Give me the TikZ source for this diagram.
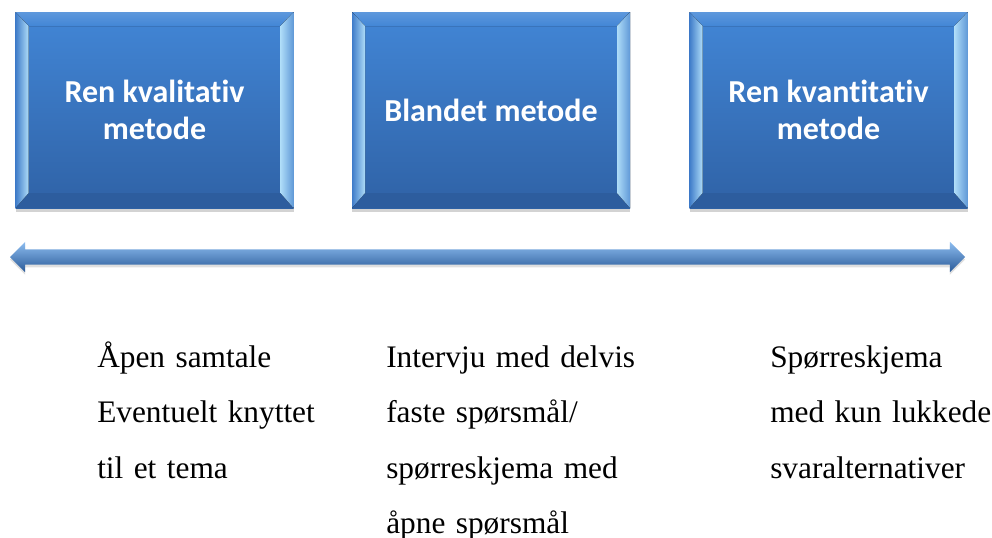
\documentclass[tikz,border=0pt]{standalone}
\usepackage{fontspec}
\setmainfont{Liberation Serif}
\newfontfamily\boksfont[Ligatures=NoCommon]{Carlito}
\usetikzlibrary{shapes.arrows, shadows, calc, chains}

\definecolor{bokstopp}{HTML}{4286D6}
\definecolor{boksbunn}{HTML}{2F62A6}
\definecolor{kantlys}{HTML}{AEDCF8}
\definecolor{kantmork}{HTML}{3F7CC9}
\definecolor{bunnkant}{HTML}{2D5D9E}
\definecolor{akselys}{HTML}{8DBDF0}
\definecolor{akseblaa}{HTML}{4A86CF}
\definecolor{aksemork}{HTML}{2A5A98}

\tikzset{
  metodeboks/.style={minimum width=208.5pt, minimum height=147pt, inner sep=0pt,
    top color=bokstopp, bottom color=boksbunn, text=white, align=center,
    font=\boksfont\bfseries\fontsize{24}{28}\selectfont,
    drop shadow={shadow xshift=0pt, shadow yshift=-3pt, opacity=0.35},
    path picture={
      \coordinate (nw) at (path picture bounding box.north west);
      \coordinate (ne) at (path picture bounding box.north east);
      \coordinate (sw) at (path picture bounding box.south west);
      \coordinate (se) at (path picture bounding box.south east);
      % skrå kanter
      \fill[top color=bokstopp!85!white, bottom color=bokstopp]
        (nw) -- (ne) -- ($(ne)+(-13,14)$) -- ($(nw)+(13,14)$) -- cycle;
      \fill[bunnkant]
        (sw) -- (se) -- ($(se)+(-13,-15)$) -- ($(sw)+(13,-15)$) -- cycle;
      \fill[left color=kantmork, right color=kantlys]
        (nw) -- ($(nw)+(13,14)$) -- ($(sw)+(13,-15)$) -- (sw) -- cycle;
      \fill[left color=kantlys, right color=kantmork!70!kantlys]
        (ne) -- ($(ne)+(-13,14)$) -- ($(se)+(-13,-15)$) -- (se) -- cycle;
    }},
  linje/.style={on chain, text width=210pt, align=left, inner sep=0pt,
    text height=30pt, text depth=11.25pt, font=\fontsize{23.5}{29}\selectfont}
}

\begin{document}
\begin{tikzpicture}[x=0.75pt, y=-0.75pt, node distance=0pt]
    \useasboundingbox (0,0) rectangle (992,537);

    \node[metodeboks] (kval) at (154.5,110) {Ren kvalitativ\\metode};
    \node[metodeboks] (bland) at (491,110) {Blandet metode};
    \node[metodeboks] (kvant) at (828.5,110) {Ren kvantitativ\\metode};

    % aksen mellom ytterpunktene
    \node[double arrow, minimum height=716.25pt, inner xsep=0pt, inner ysep=5.6pt,
      double arrow head extend=5.6pt,
      top color=akselys, middle color=akseblaa, bottom color=aksemork,
      drop shadow={shadow xshift=0pt, shadow yshift=-2pt, opacity=0.25}]
      (akse) at (487.5,257) {};

    \begin{scope}[start chain=venstre going below]
      \node[linje, anchor=base west] (v1) at (97,367) {Åpen samtale};
      \node[linje] (v2) {Eventuelt knyttet};
      \node[linje] (v3) {til et tema};
    \end{scope}

    \begin{scope}[start chain=midten going below]
      \node[linje, anchor=base west] (m1) at (386,367) {Intervju med delvis};
      \node[linje] (m2) {faste spørsmål/};
      \node[linje] (m3) {spørreskjema med};
      \node[linje] (m4) {åpne spørsmål};
    \end{scope}

    \begin{scope}[start chain=hoyre going below]
      \node[linje, anchor=base west] (h1) at (770,367) {Spørreskjema};
      \node[linje] (h2) {med kun lukkede};
      \node[linje] (h3) {svaralternativer};
    \end{scope}
  \end{tikzpicture}
\end{document}
